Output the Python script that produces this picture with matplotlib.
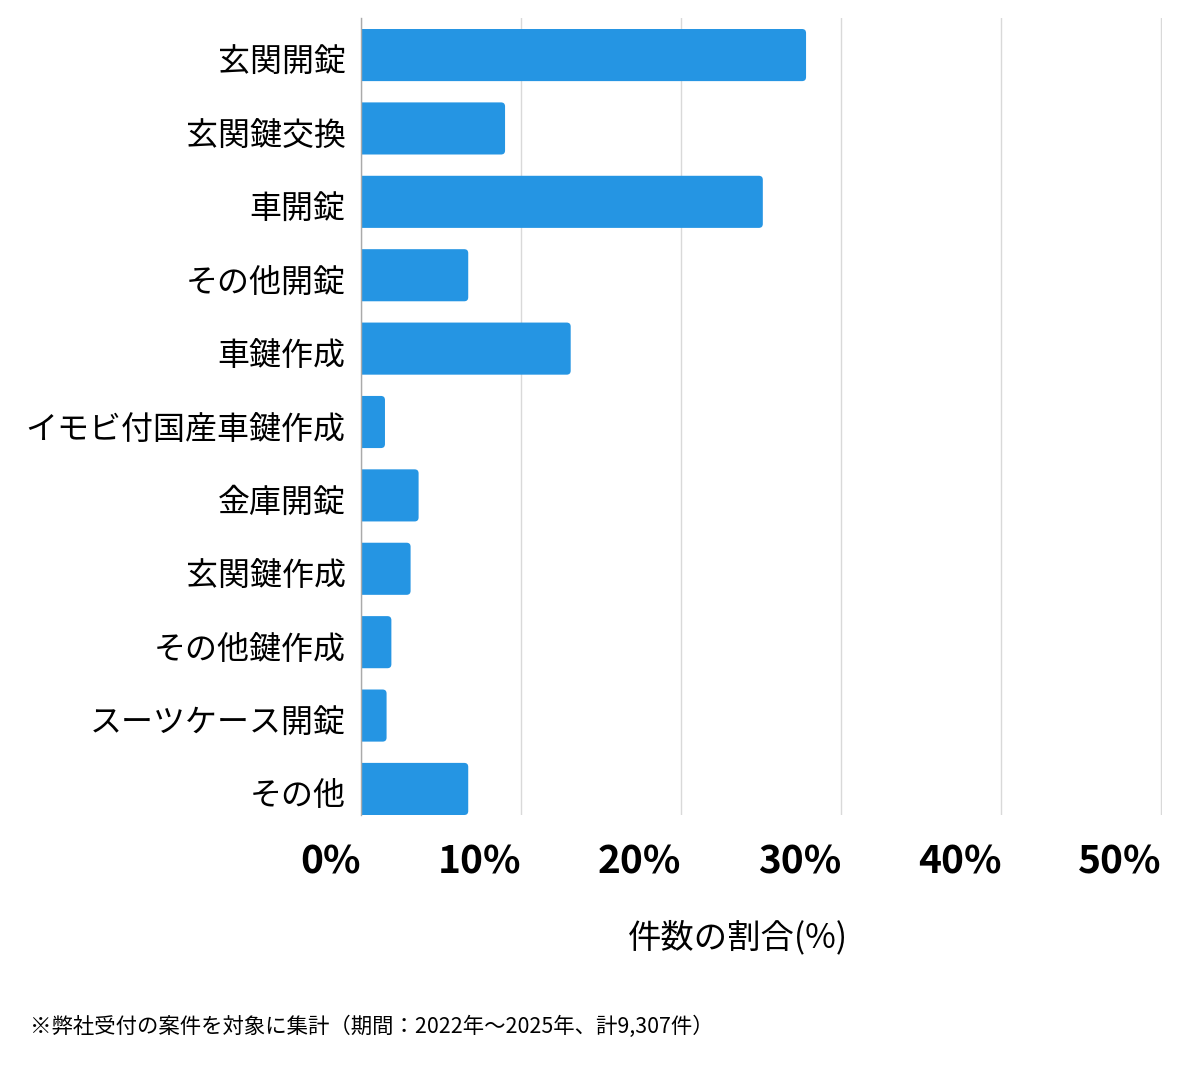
import matplotlib
matplotlib.use("Agg")
import matplotlib.pyplot as plt
import matplotlib.transforms as mtransforms
from matplotlib.patches import FancyBboxPatch

plt.rcParams['font.family'] = ['Noto Sans CJK JP', 'DejaVu Sans']

categories = ["玄関開錠", "玄関鍵交換", "車開錠", "その他開錠", "車鍵作成",
              "イモビ付国産車鍵作成", "金庫開錠", "玄関鍵作成", "その他鍵作成",
              "スーツケース開錠", "その他"]
shares = [27.8, 9.0, 25.1, 6.7, 13.1, 1.5, 3.6, 3.1, 1.9, 1.6, 6.7]
x_ticks = [0, 10, 20, 30, 40, 50]
x_ticklabels = ["0%", "10%", "20%", "30%", "40%", "50%"]
x_label = "件数の割合(%)"
footnote = "※弊社受付の案件を対象に集計（期間：2022年〜2025年、計9,307件）"

bar_color = "#2595E3"
bar_h = 0.71

fig = plt.figure(figsize=(12, 10.69), dpi=100)
ax = fig.add_axes([0.3008, 1 - 815 / 1069, 0.9683 - 0.3008, (815 - 18) / 1069])

# px per data unit, used to keep the corner rounding circular
px_x = 801 / 50
px_y = 797 / (10 + bar_h / 2 + 0.505)
for i, v in enumerate(shares):
    r = 4 / px_x
    patch = FancyBboxPatch((-1, i - bar_h / 2), v + 1, bar_h,
                           boxstyle="round,pad=0,rounding_size=%f" % r,
                           mutation_aspect=px_x / px_y,
                           facecolor=bar_color, edgecolor="none", zorder=3)
    ax.add_patch(patch)

ax.set_xlim(0, 50.03)
ax.set_ylim(10 + bar_h / 2, -0.505)
ax.set_yticks(range(len(categories)))
ax.set_yticklabels(categories, fontsize=23)
ax.set_xticks(x_ticks)
ax.set_xticklabels(x_ticklabels, fontsize=28, fontweight="bold", ha="right")
ax.tick_params(axis="both", length=0)
ax.tick_params(axis="y", pad=11)
ax.tick_params(axis="x", pad=20)

# nudge category labels a little down, as in the source
shift = mtransforms.ScaledTranslation(0, -4 / 100, fig.dpi_scale_trans)
for lbl in ax.get_yticklabels():
    lbl.set_transform(lbl.get_transform() + shift)

ax.grid(axis="x", color="#d9d9d9", linewidth=1, zorder=0)
for s in ["top", "right", "bottom"]:
    ax.spines[s].set_visible(False)
ax.spines["left"].set_color("#aaaaaa")
ax.spines["left"].set_linewidth(1)
ax.spines["left"].set_zorder(4)

ax.set_xlabel(x_label, fontsize=24)
ax.xaxis.set_label_coords(0.471, -0.132)

fig.text(30 / 1200, 1 - 1027 / 1069, footnote, fontsize=15.4, va="center", ha="left")

fig.savefig("out.png", dpi=100, facecolor="white")
